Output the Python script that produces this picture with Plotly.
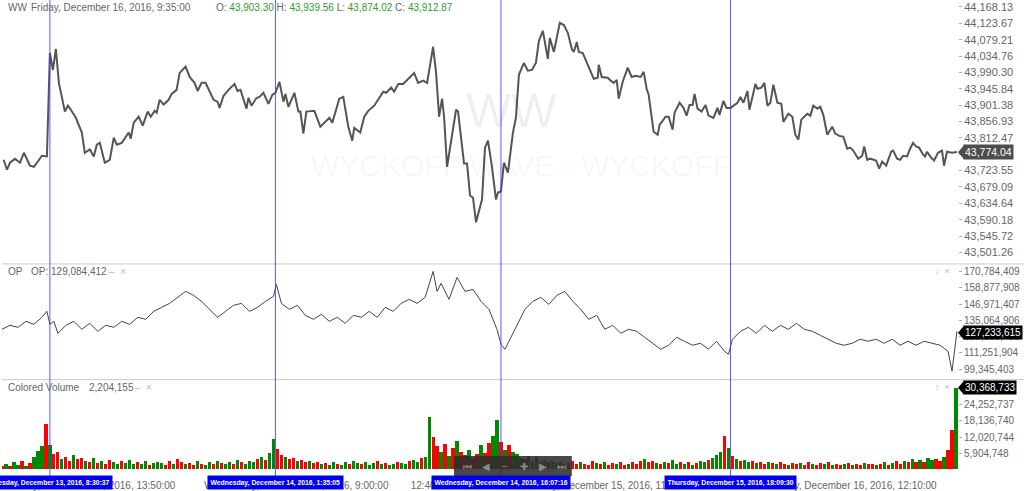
import plotly.graph_objects as go

# ---- data (x in bar units, one bar ~ one time slot) ----
price_bar = [
    0.4, 1.25, 2.0, 3.25, 4.5, 5.5, 7.0, 8.0, 8.75, 10.0, 11.25, 12.0, 12.75, 13.5, 14.25,
    15.75, 16.5, 17.25, 18.5, 19.25, 20.0, 20.75, 22.0, 23.0, 23.75, 24.5, 25.75, 27.0, 28.0,
    28.75, 30.0, 31.75, 32.25, 33.0, 34.25, 35.25, 36.5, 37.25, 38.25, 38.75, 39.5, 40.5,
    41.75, 42.5, 43.75, 44.5, 46.0, 47.0, 48.25, 49.0, 50.0, 51.0, 52.0, 53.0, 54.0, 54.5,
    55.5, 56.75, 58.25, 59.0, 59.75, 61.25, 61.75, 62.5, 63.75, 64.5, 65.5, 66.75, 67.75,
    68.5, 69.5, 70.5, 71.0, 71.75, 73.25, 74.25, 74.75, 75.5, 76.25, 78.25, 79.75,
    82.0, 82.75, 83.5, 84.5, 85.5, 86.75, 87.75, 88.25, 89.75, 90.75, 91.75, 93.25, 94.5,
    95.5, 96.25, 97.5, 98.25, 99.25, 100.5, 101.75, 103.25, 104.25, 105.5, 106.5, 108.0,
    108.75, 109.5, 110.25, 110.75, 111.5, 113.75, 114.25, 115.75, 116.5, 117.25, 118.0,
    118.75, 120.25, 121.0, 121.75, 122.75, 123.75, 124.25, 125.0, 125.75, 126.75, 128.0,
    128.75, 129.5, 130.75, 131.75, 132.75, 133.75, 134.5, 135.5, 136.75, 137.25, 138.25,
    139.75, 140.75, 141.75, 142.75, 143.25, 144.0, 144.5, 145.5, 146.5, 148.25, 149.25,
    149.5, 150.25, 151.75, 152.5, 153.25, 154.0, 154.5, 155.5, 156.75, 157.75, 158.75,
    160.0, 160.75, 161.5, 162.0, 163.25, 164.25, 164.75, 166.25, 167.0, 168.0, 168.5,
    169.75, 170.75, 171.5, 172.25, 173.0, 173.5, 174.25, 175.25, 176.25, 177.0, 178.25,
    179.25, 179.75, 180.75, 181.5, 182.5, 184.25, 185.0, 185.75, 186.75, 187.25, 188.75,
    189.25, 190.25, 191.0, 191.75, 192.5, 193.25, 194.25, 195.25, 195.75, 197.0, 198.0,
    198.75, 199.5, 200.25, 201.75, 202.5, 203.25, 204.25, 205.0, 205.75, 206.75, 208.0,
    208.75, 209.75, 210.75, 211.75, 212.5, 213.25, 214.5, 215.5, 216.0, 216.75, 217.5,
    219.0, 219.75, 220.5, 221.5, 222.75, 223.25, 224.25, 225.0, 225.75, 226.75, 227.5,
    228.25, 229.0, 229.75, 230.75, 231.25, 231.75, 232.75, 233.5, 234.5, 235.5, 236.0,
    236.75, 238.0, 239.25,
]
price = [
    43753, 43726, 43745, 43756, 43745, 43772, 43737, 43734, 43745, 43764, 43762, 44043, 43997,
    44054, 43962, 43884, 43900, 43889, 43867, 43848, 43827, 43772, 43781, 43762, 43794, 43799,
    43745, 43753, 43813, 43794, 43799, 43827, 43810, 43854, 43870, 43846, 43884, 43870, 43886,
    43881, 43916, 43903, 43916, 43932, 43943, 43989, 44006, 43978, 43962, 43940, 43962, 43962,
    43938, 43916, 43911, 43894, 43927, 43943, 43959, 43940, 43943, 43892, 43921, 43900, 43921,
    43924, 43935, 43905, 43930, 43935, 43965, 43911, 43932, 43897, 43935, 43884, 43884, 43824,
    43884, 43886, 43843,
    43867, 43854, 43881, 43919, 43924, 43843, 43805, 43840, 43827, 43870, 43886, 43900, 43921,
    43938, 43935, 43949, 43938, 43959, 43959, 43973, 43989, 43962, 43968, 43962, 44060, 43989,
    43870, 43919, 43870, 43734, 43889, 43884, 43743, 43743, 43656, 43650, 43583, 43645, 43786,
    43805, 43734, 43645, 43664, 43667, 43745, 43718, 43827, 43867, 43984, 44016, 43995, 43997,
    44016, 44076, 44103, 44027, 44084, 44046, 44125, 44119, 44098, 44054, 44046, 44073, 44046,
    44043, 44016, 43973, 43976, 44011, 43978, 43976, 43968, 43962, 43970, 43919, 43965, 44003,
    43978, 43981,
    43978, 43992, 43946, 43930, 43829, 43821, 43848, 43870, 43870, 43835, 43881, 43908, 43894,
    43873, 43902, 43902, 43932, 43892, 43884, 43902, 43873, 43867, 43894, 43875, 43913, 43894,
    43894, 43908, 43924, 43908, 43940, 43889, 43959, 43946, 43949, 43962, 43900, 43908, 43957,
    43908, 43905, 43856, 43878, 43870, 43821, 43808, 43862, 43878, 43873, 43900, 43892, 43897,
    43875, 43821, 43843, 43824, 43818, 43816, 43783, 43786, 43778, 43756, 43764, 43789, 43753,
    43756, 43751, 43729, 43748, 43737, 43775, 43778, 43756, 43753, 43764, 43762, 43783, 43799,
    43789, 43786, 43767, 43762, 43775, 43759, 43751, 43772, 43778, 43737, 43775, 43772, 43774.04,
]

op_bar = [
    0, 2, 4, 6, 8, 10, 11.25, 12, 13, 14, 16, 18, 20, 22, 24, 26, 28, 30, 32, 34, 36, 38, 40,
    42, 44, 46, 48, 50, 52, 54, 56, 58, 60, 62, 64, 66, 68, 68.75, 70, 72, 74, 76, 78, 80, 82,
    84, 86, 88, 90, 92, 94, 96, 98, 100, 102, 104, 106, 108, 109, 110, 112, 114, 116, 118, 120,
    122, 124, 125, 126, 127, 129, 131, 133, 135, 137, 139, 141, 143, 145, 147, 149, 151, 153,
    155, 157, 159, 161, 163, 165, 167, 169, 171, 173, 175, 177, 179, 181, 182, 183, 185, 187,
    189, 191, 193, 195, 197, 199, 201, 203, 205, 207, 209, 211, 213, 215, 217, 219, 221, 223,
    225, 227, 229, 231, 233, 235, 237, 238, 239.25,
]
op_m = [
    128.50, 131.42, 129.96, 134.33, 132.15, 137.25, 141.62, 132.15, 134.33, 125.58, 131.42,
    134.33, 128.50, 132.87, 127.04, 131.42, 129.96, 134.33, 132.15, 137.25, 135.79, 141.62,
    144.54, 147.46, 151.83, 156.20, 153.29, 148.91, 143.08, 137.25, 141.62, 146.00, 147.46,
    141.62, 144.54, 148.91, 152.56, 161.31, 147.46, 143.08, 146.00, 138.71, 135.79, 139.43,
    134.33, 137.25, 132.87, 138.71, 137.25, 141.62, 137.25, 144.54, 141.62, 147.46, 150.37,
    147.46, 151.83, 170.78, 156.20, 162.04, 150.37, 166.41, 156.20, 157.66, 148.91, 143.08,
    128.50, 117.57, 113.92, 119.75, 132.15, 143.08, 148.91, 151.83, 146.73, 153.29, 156.20,
    148.91, 143.08, 135.79, 138.71, 128.50, 131.42, 125.58, 128.50, 127.04, 122.67, 118.29,
    113.92, 116.84, 122.67, 119.75, 116.84, 118.29, 113.92, 119.75, 112.46, 110.28, 121.21,
    127.04, 129.96, 125.58, 131.42, 127.04, 131.42, 128.50, 132.87, 128.50, 127.04, 124.13,
    121.21, 118.29, 116.84, 118.29, 121.21, 119.75, 121.21, 118.29, 121.21, 116.84, 119.75,
    116.84, 119.75, 118.29, 116.84, 112.46, 97.88, 127.233615,
]

volume_m = [
    1.2, 1.8, 0.9, 2.5, 1.4, 3.1, 1.0, 2.2, 4.5, 6.8, 8.5, 16.8, 9.0, 5.5, 6.2, 3.8, 4.4, 2.9, 5.1, 3.6,
    4.2, 3.0, 2.6, 3.9, 2.1, 2.8, 1.9, 3.3, 2.4, 1.7, 2.9, 2.2, 3.5, 1.8, 2.6, 2.0, 3.1, 1.6, 2.3, 2.7,
    2.1, 1.5, 2.8, 1.9, 3.6, 2.4, 1.8, 2.2, 1.4, 2.9, 2.0, 1.6, 2.5, 1.9, 3.0, 2.2, 1.7, 2.6, 2.0, 3.2,
    2.4, 1.9, 3.1, 2.6, 3.8, 4.5, 3.2, 5.8, 11.2, 7.4, 5.1, 4.3, 3.6, 4.0, 2.8, 3.3, 2.5, 2.9, 2.1, 2.6,
    1.8, 2.3, 1.5, 2.7, 2.0, 1.6, 2.4, 1.9, 3.0, 2.2, 1.7, 2.5, 1.4, 2.1, 2.8, 1.9, 2.3, 1.6, 2.0, 2.6,
    2.2, 1.8, 2.9, 3.4, 2.6, 3.9, 4.6, 19.5, 12.0, 8.5, 6.2, 9.4, 5.0, 7.8, 10.6, 6.4, 5.2, 7.0, 4.1, 5.6,
    8.8, 6.0, 9.6, 12.5, 18.6, 10.2, 7.1, 9.0, 6.3, 5.4, 4.2, 3.6, 5.0, 3.1, 4.4, 2.7, 3.5, 2.4, 3.0, 2.2,
    2.6, 1.9, 2.3, 3.1, 1.8, 2.5, 2.0, 1.5, 2.8, 2.1, 1.7, 2.4, 1.6, 2.2, 1.9, 2.7, 1.4, 2.0, 2.5, 1.8,
    2.9, 3.6, 2.4, 3.0, 2.2, 1.9, 2.6, 2.1, 3.3, 1.8, 2.4, 2.0, 2.7, 1.6, 2.2, 3.0, 2.5, 3.4, 4.1, 5.2,
    6.5, 12.4, 7.8, 4.9, 3.6, 2.8, 3.4, 2.5, 3.0, 2.2, 2.7, 1.9, 2.4, 2.1, 1.7, 2.6, 2.0, 1.5, 2.3, 1.8,
    2.2, 1.6, 2.5, 1.9, 1.4, 2.1, 1.7, 2.4, 1.5, 2.0, 1.3, 1.8, 2.2, 1.6, 1.9, 1.4, 2.3, 1.7, 2.0, 1.5,
    1.9, 2.4, 1.6, 2.1, 2.8, 1.9, 3.0, 2.4, 3.6, 2.7, 3.3, 2.5, 4.0, 3.2, 3.8, 2.9, 4.6, 7.2, 14.6, 30.368733,
]
# g = up bar, r = down bar
volume_dir = (
    "rgrggrgrgggrgrrgrrgr" "rgrgrgrrggrgggrggrgg" "grrgrrgrrgrggrgrggrg"
    "rgggrgrggrrgrrgrrgrr" "grggrggrggrgggrgrggr" "ggrggrggrrgrgrgrrgrr"
    "grrggrgrgggrggrggrgg" "rrgrrgrrrgrgrrgrrgrr" "rgrrgrgrggrgrgrggrgg"
    "grgrgrggrgrrgrgrrgrr" "grrgrrgrgrrgrgrrgrrg" "rgrgrrgrgrgrggrrgrrg"
)

price_ticks = [43501.26, 43545.72, 43590.18, 43634.64, 43679.09, 43723.55, 43768.01,
               43812.47, 43856.93, 43901.38, 43945.84, 43990.30, 44034.76, 44079.21,
               44123.67, 44168.13]
op_ticks = [99345403, 111251904, 123158405, 135064906, 146971407, 158877908, 170784409]
vol_ticks = [5904748, 12020744, 18136740, 24252737]

x_tick_bars = [21.5, 73.75, 107.25, 151, 213.5]
x_tick_text = ["Tuesday, December 13, 2016, 13:50:00", "Wednesday, December 14, 2016, 9:00:00",
               "12:40:00", "Thursday, December 15, 2016, 11:20:00",
               "Friday, December 16, 2016, 12:10:00"]

marker_bars = [12, 68.5, 125, 182.5]
marker_text = ["Tuesday, December 13, 2016, 8:30:37", "Wednesday, December 14, 2016, 1:35:05",
               "Wednesday, December 14, 2016, 16:07:16", "Thursday, December 15, 2016, 18:09:30"]

last_price = price[-1]
last_op = op_m[-1] * 1e6
last_vol = volume_m[-1] * 1e6

PLOT_W, PLOT_H = 958, 470
FONT = "Liberation Sans, Arial, sans-serif"
GRAY = "#666666"


def px_x(px):
    return px / PLOT_W


def px_y(py):
    return (PLOT_H - py) / PLOT_H


fig = go.Figure()

fig.add_trace(go.Scatter(x=price_bar, y=price, mode="lines", yaxis="y",
                         line=dict(color="#555555", width=2), hoverinfo="skip"))
fig.add_trace(go.Scatter(x=op_bar, y=[v * 1e6 for v in op_m], mode="lines", yaxis="y2",
                         line=dict(color="#444444", width=1), hoverinfo="skip"))
fig.add_trace(go.Bar(x=list(range(len(volume_m))), y=[v * 1e6 for v in volume_m], yaxis="y3",
                     width=0.8,
                     marker=dict(color=["#008800" if d == "g" else "#ff0000" for d in volume_dir],
                                 line=dict(width=0)),
                     hoverinfo="skip"))


def yax(size):
    return dict(side="right", anchor="x", showgrid=False, zeroline=False, showline=False,
                ticks="outside", ticklen=3, tickcolor="#aaaaaa",
                tickfont=dict(family=FONT, size=size, color=GRAY))


shapes = []
# panel separators
for py in (264.5, 380.5):
    shapes.append(dict(type="line", xref="paper", yref="paper", x0=0, x1=1.07,
                       y0=px_y(py), y1=px_y(py), line=dict(color="#c8c8c8", width=1)))
# blue crosshair markers
for b in marker_bars:
    shapes.append(dict(type="line", xref="x", yref="paper", x0=b, x1=b, y0=px_y(477), y1=1,
                       line=dict(color="rgba(60,60,255,0.85)", width=1)))
# navigator widget
shapes.append(dict(type="rect", xref="paper", yref="paper", x0=px_x(453), x1=px_x(571),
                   y0=px_y(477), y1=px_y(457), fillcolor="rgba(45,45,45,0.88)",
                   line=dict(width=0)))
# last value pointers
for py, col in ((152.5, "#4d4d4d"), (333.5, "#000000"), (388.5, "#000000")):
    shapes.append(dict(type="path", xref="paper", yref="paper",
                       path=f"M {px_x(958)},{px_y(py)} L {px_x(964)},{px_y(py - 7)} "
                            f"L {px_x(964)},{px_y(py + 7)} Z",
                       fillcolor=col, line=dict(width=0)))

ann = []


def text(px, py, s, color=GRAY, size=10, anchor="left", **kw):
    ann.append(dict(xref="paper", yref="paper", x=px_x(px), y=px_y(py), text=s,
                    showarrow=False, xanchor=anchor, yanchor="middle",
                    font=dict(family=FONT, size=size, color=color), **kw))


green = "#2e9e2e"
text(4, 8, "WW")
text(27, 8, "Friday, December 16, 2016, 9:35:00")
text(212, 8, f"O: <span style='color:{green}'>43,903.30</span> "
             f"H: <span style='color:{green}'>43,939.56</span> "
             f"L: <span style='color:{green}'>43,874.02</span> "
             f"C: <span style='color:{green}'>43,912.87</span>")
text(4, 272, "OP")
text(27, 272, "OP: 129,084,412")
text(105, 272, "–  ×", color="#bbbbbb")
text(4, 388, "Colored Volume")
text(85, 388, "2,204,155")
text(131, 388, "–  ×", color="#bbbbbb")
text(933, 272, "↓  ×", color="#bbbbbb", size=9)
text(933, 388, "↑  ×", color="#bbbbbb", size=9)

# watermark
text(511, 111, "WW", color="rgba(0,0,0,0.07)", size=48, anchor="center")
text(520, 166, "WYCKOFF WAVE - WYCKOFF", color="rgba(0,0,0,0.045)", size=30, anchor="center")

# navigator icons
for px, icon in ((466, "⏮"), (485, "◀"), (504, "−"), (523, "✚"), (542, "▶"), (561, "⏭")):
    text(px, 467, icon, color="#8a8a8a", size=10, anchor="center")

# last value labels
for py, s, col, sz in ((152.5, f"{last_price:,.2f}", "#4d4d4d", 10.5),
                       (333.5, f"{last_op:,.0f}", "#000000", 10),
                       (388.5, f"{last_vol:,.0f}", "#000000", 10)):
    text(963, py, s, color="white", size=sz, bgcolor=col, borderpad=1)

# marker date labels
for b, s in zip(marker_bars, marker_text):
    ann.append(dict(xref="x", yref="paper", x=b, y=px_y(483.5), text=f"<b>{s}</b>",
                    showarrow=False, xanchor="center", yanchor="middle", bgcolor="#0000ee",
                    borderpad=2.5, font=dict(family=FONT, size=6.8, color="white")))

fig.update_layout(
    width=1024, height=491,
    margin=dict(l=0, r=66, t=0, b=21),
    paper_bgcolor="white", plot_bgcolor="white",
    showlegend=False, bargap=0,
    xaxis=dict(range=[0, 239.5], anchor="y3", showgrid=False, zeroline=False, showline=False,
               ticks="outside", ticklen=7, tickcolor="rgba(0,0,0,0)",
               tickvals=x_tick_bars, ticktext=x_tick_text, ticklabeloverflow="allow",
               tickfont=dict(family=FONT, size=10, color=GRAY)),
    yaxis=dict(domain=[px_y(264), 1], range=[43471.4, 44187.1], tickvals=price_ticks,
               tickformat=",.2f", **yax(11)),
    yaxis2=dict(domain=[px_y(380), px_y(265)], range=[92.05e6, 175.89e6], tickvals=op_ticks,
                tickformat=",d", **yax(10)),
    yaxis3=dict(domain=[0, px_y(381)], range=[0, 33.5e6], tickvals=vol_ticks,
                tickformat=",d", **yax(10)),
    shapes=shapes,
    annotations=ann,
)

# the page body has a default 8px margin; drop it so the figure fills the window
fig.write_html("out.html", config={"displayModeBar": False},
               post_script="document.body.style.margin='0';document.body.style.overflow='hidden';")
